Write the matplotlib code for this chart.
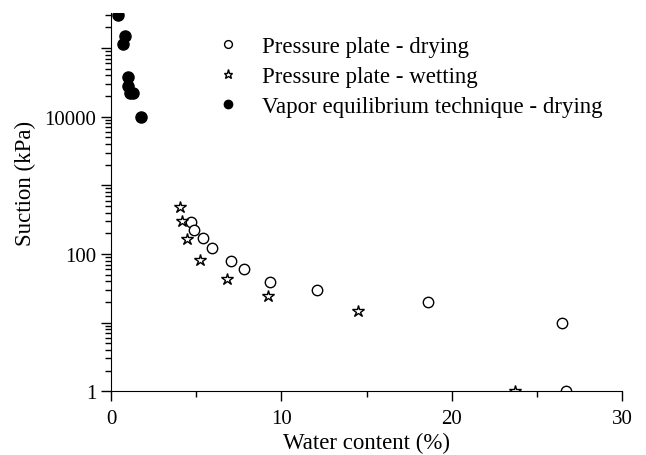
import numpy as np
import matplotlib
matplotlib.use("Agg")
import matplotlib.pyplot as plt
from matplotlib.ticker import LogLocator, NullFormatter, MultipleLocator

plt.rcParams['font.family'] = ['Liberation Serif', 'DejaVu Serif']

# Pressure plate - drying
dry_w = [4.67, 4.85, 5.37, 5.90, 7.02, 7.78, 9.34, 12.06, 18.63, 26.47, 26.7]
dry_s = [290, 224, 169, 122, 79, 60, 39, 29.6, 19.8, 9.8, 1.0]

# Pressure plate - wetting
wet_w = [4.05, 4.14, 4.45, 5.22, 6.82, 9.23, 14.50, 23.7]
wet_s = [479, 299, 165, 81, 43, 24.7, 14.8, 1.0]

# Vapor equilibrium technique - drying
vap_w = [0.41, 0.80, 0.72, 1.02, 1.02, 1.13, 1.27, 1.74]
vap_s = [3.0e5, 1.5e5, 1.14e5, 3.8e4, 2.8e4, 2.2e4, 2.2e4, 1.0e4]

y_ticks = [1, 10, 100, 1000, 1e4, 1e5]
y_labels = ['1', '', '100', '', '10000', '']

fig = plt.figure(figsize=(6.46, 4.56), dpi=100)
ax = fig.add_axes([0.172, 0.140, 0.791, 0.829])

ax.plot(dry_w, dry_s, 'o', mfc='white', mec='black', mew=1.0, ms=7.5,
        label='Pressure plate - drying')
ax.plot(wet_w, wet_s, '*', mfc='white', mec='black', mew=1.0, ms=9,
        label='Pressure plate - wetting')
ax.plot(vap_w, vap_s, 'o', mfc='black', mec='black', ms=8,
        label='Vapor equilibrium technique - drying')

ax.set_yscale('log')
ax.set_xlim(0, 30)
ax.set_ylim(1, 10 ** 5.51)

ax.xaxis.set_major_locator(MultipleLocator(10))
ax.xaxis.set_minor_locator(MultipleLocator(5))
ax.set_yticks(y_ticks)
ax.set_yticklabels(y_labels)
ax.yaxis.set_minor_locator(LogLocator(base=10, subs=np.arange(2, 10)))
ax.yaxis.set_minor_formatter(NullFormatter())

for s in ['top', 'right']:
    ax.spines[s].set_visible(False)
ax.tick_params(axis='both', which='major', direction='out', length=7, width=1,
               labelsize=15)
ax.tick_params(axis='x', which='major', pad=6)
ax.tick_params(axis='both', which='minor', direction='out', length=4, width=1)

ax.set_xlabel('Water content (%)', fontsize=16.5)
ax.set_ylabel('Suction (kPa)', fontsize=16.5)
ax.xaxis.set_label_coords(0.5, -0.135)
ax.xaxis.label.set_va('center')
ax.yaxis.set_label_coords(-0.168, 0.553)
ax.yaxis.label.set_va('center')

ax.legend(loc='upper left', bbox_to_anchor=(0.293, 0.954), bbox_transform=fig.transFigure,
          frameon=False, fontsize=16.5, handletextpad=0.48, labelspacing=0.38,
          markerscale=0.75, borderpad=0.2)

fig.savefig('out.png', dpi=100)
